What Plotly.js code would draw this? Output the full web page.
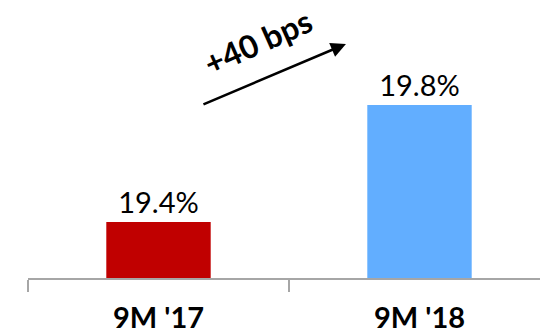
<!DOCTYPE html>
<html>
<head>
<meta charset="utf-8">
<script src="https://cdn.plot.ly/plotly-3.0.1.min.js"></script>
<style>html,body{margin:0;padding:0;background:#fff;}#chart{width:540px;height:334px;}</style>
</head>
<body>
<div id="chart"></div>
<script>
const categories = ["9M '17", "9M '18"];
const values = [19.4, 19.8];
const labels = ["19.4%", "19.8%"];
const barColors = ["#C00000", "#62AEFF"];
const changeLabel = "+40 bps";

const trace = {
  type: 'bar',
  x: categories,
  y: values,
  width: 0.4,
  marker: {color: barColors},
  text: labels,
  textposition: 'outside',
  cliponaxis: true,
  textfont: {family: 'Lato, sans-serif', size: 29, color: '#000'},
  hoverinfo: 'none'
};

const layout = {
  width: 540, height: 334,
  margin: {l: 28, r: 0, t: 20, b: 56},
  paper_bgcolor: '#fff', plot_bgcolor: '#fff',
  showlegend: false,
  bargap: 0.6,
  xaxis: {
    type: 'category',
    range: [-0.5, 1.4617],
    tickson: 'boundaries',
    ticks: 'outside', ticklen: 12, tickwidth: 2, tickcolor: '#a6a6a6',
    showline: true, linecolor: '#a6a6a6', linewidth: 2,
    showgrid: false, zeroline: false,
    ticklabelstandoff: 13,
    tickfont: {family: 'Lato, sans-serif', size: 29, color: '#000', weight: 'bold'}
  },
  yaxis: {
    range: [19.2085, 20.0906],
    visible: false, showgrid: false, zeroline: false
  },
  annotations: [
    {
      xref: 'paper', yref: 'paper', x: 0.621, y: 0.907,
      ax: -144, ay: 61, axref: 'pixel', ayref: 'pixel',
      text: '', showarrow: true, arrowhead: 2, arrowsize: 1.2, arrowwidth: 2.5, arrowcolor: '#000'
    },
    {
      xref: 'paper', yref: 'paper', x: 0.449, y: 0.915,
      xanchor: 'center', yanchor: 'middle',
      text: changeLabel, showarrow: false, textangle: -24,
      font: {family: 'Lato, sans-serif', size: 32, color: '#000', weight: 'bold'}
    }
  ]
};

Plotly.newPlot('chart', [trace], layout, {staticPlot: true, displayModeBar: false});
</script>
</body>
</html>
